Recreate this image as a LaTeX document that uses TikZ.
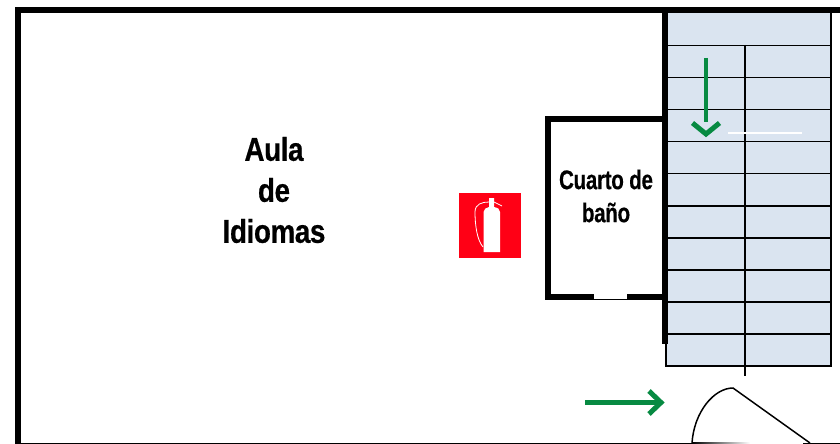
\documentclass[tikz,border=0pt]{standalone}
\usepackage{fontspec}
\newfontfamily\planbig[FakeStretch=.84,LetterSpace=-1,FakeBold=.6]{Liberation Sans Bold}
\newfontfamily\plansmall[FakeStretch=.76,LetterSpace=-1,FakeBold=.4]{Liberation Sans Bold}
\definecolor{stairfill}{HTML}{DAE4F0}
\definecolor{exitgreen}{HTML}{078A42}
\definecolor{signred}{HTML}{FF0015}
\tikzset{
  wall/.style={line width=6pt,line cap=butt},
  stairline/.style={line width=1.5pt},
  greenarrow/.style={draw=exitgreen,line width=4.5pt},
  labelbig/.style={font=\planbig\fontsize{33}{41}\selectfont,align=center,inner sep=0pt},
  labelsmall/.style={font=\plansmall\fontsize{27}{33}\selectfont,align=center,inner sep=0pt},
}
\begin{document}
\begin{tikzpicture}[x=1pt,y=-1pt]
\useasboundingbox (0,0) rectangle (840,444);
% stair
\fill[stairfill] (665,13) rectangle (832,366);
\foreach \yy in {45.5,77.5,109.5,141.5,173.5,206,238,270,302,334}
  \draw[stairline] (666,\yy) -- (831,\yy);
\draw[stairline] (745,45) -- (745,376);
\draw[line width=2pt] (666,344) -- (666,366) -- (831,366) -- (831,13);
% walls
\draw[wall] (18,444) -- (18,10) -- (840,10);
\draw[line width=6pt] (664.5,13) -- (664.5,344);
\draw[wall,line join=miter] (662,119) -- (548,119) -- (548,296.5) -- (662,296.5);
\fill[white] (594,294) rectangle (627,299);
\draw[white,line width=1.5pt] (728,133) -- (802,133);
% bottom wall and door
\draw[line width=1.5pt] (21,443.3) -- (692,443.3);
\shade[left color=black,right color=white] (692,442.5) rectangle (750,444);
\draw[line width=1.5pt] (803,443.3) -- (840,443.3);
\draw[line width=1.5pt] (692,443) .. controls (694,412) and (714,388) .. (733,388) -- (810,443);
% green arrows
\path[greenarrow] (706,58) -- (706,122);
\path[greenarrow,line width=5pt] (692.5,123) -- (706,134) -- (719.5,123);
\path[greenarrow] (585,402.5) -- (661,402.5);
\path[greenarrow,line width=5pt] (649,391) -- (661,402.5) -- (649,414);
% extinguisher sign
\fill[signred] (459,193) rectangle (521,258);
\fill[white] (483.5,252) -- (483.5,212) .. controls (483.5,209) and (486,208) .. (489,207) -- (489,198) -- (494,198) -- (494,207) .. controls (498,208) and (500,209) .. (500,212) -- (500,252) -- cycle;
\draw[white,line width=.8pt] (489,202) .. controls (482,202) and (475,204) .. (475,212) .. controls (475,225) and (477,240) .. (483,247);
\draw[white,line width=.8pt] (494,202) -- (502,206);
% labels
\node[labelbig,anchor=center] (aula) at (274,190) {Aula\\de\hspace{.3em}\\Idiomas};
\node[labelsmall,anchor=center] (bano) at (606,196) {Cuarto de\\baño};
\end{tikzpicture}
\end{document}
